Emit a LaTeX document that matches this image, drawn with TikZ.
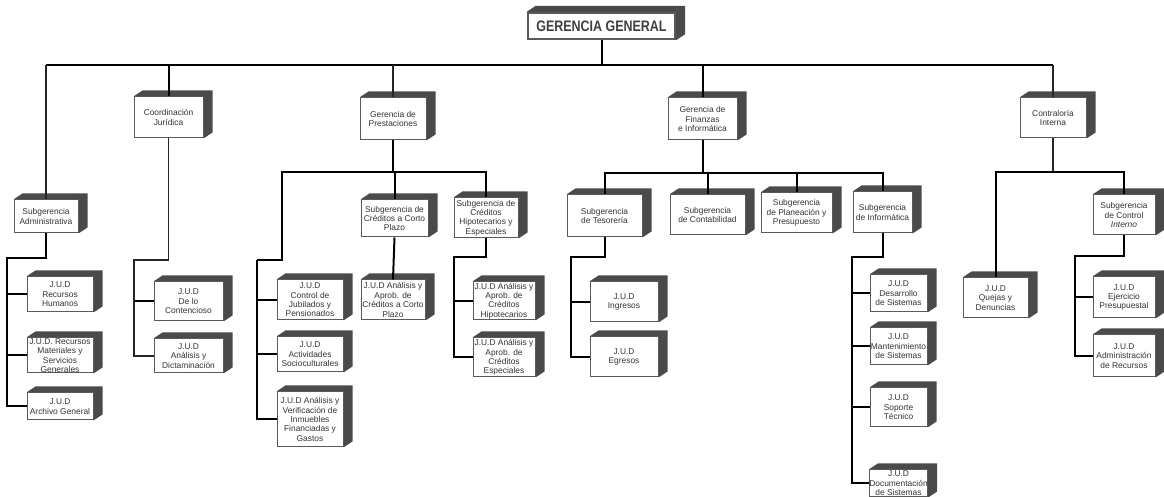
\documentclass[tikz,border=0pt]{standalone}
\usepackage{fontspec}
\setmainfont{Liberation Sans}
\usetikzlibrary{backgrounds}
\definecolor{boxline}{HTML}{5A5A5A}
\definecolor{sidefill}{HTML}{4A4A4A}
\definecolor{textc}{HTML}{333333}
\newcommand\boxfont{\fontsize{4.2}{4.7}\selectfont}

\begin{document}
\begin{tikzpicture}[x=0.5pt,y=-0.5pt,
  box/.style={draw=boxline, line width=0.5pt, fill=white, align=center,
    inner sep=0pt, font=\boxfont, text=textc},
  sz/.style 2 args={minimum width=#1*0.5pt, minimum height=#2*0.5pt},
  link/.style={line width=1pt, black},
  thinlink/.style={line width=0.6pt, black!85},
  bus/.style={line width=1.4pt, black}]
\useasboundingbox (0,0) rectangle (1164,497);

% ---------- top level ----------
\node[box, line width=1.2pt, sz={147}{26}, text=black!75,
      font=\bfseries\fontsize{7.6}{8}\selectfont] (gg) at (601.5,26)
      {\scalebox{0.82}[1]{GERENCIA GENERAL}};

% ---------- Subgerencia Administrativa ----------
\node[box, sz={64}{33}] (sa) at (46,216.5) {Subgerencia\\Administrativa};
\node[box, sz={66}{35}] (rh) at (60,294.5) {J.U.D\\Recursos\\Humanos};
\node[box, sz={66}{35}] (rm) at (60,355.5) {J.U.D. Recursos\\Materiales y\\Servicios\\Generales};
\node[box, sz={66}{27}] (ag) at (60,406.5) {J.U.D\\Archivo General};

% ---------- Coordinacion Juridica ----------
\node[box, sz={69}{41}] (cj) at (168.5,117.5) {Coordinación\\Jurídica};
\node[box, sz={69}{39}] (dc) at (188.5,301.5) {J.U.D\\De lo\\Contencioso};
\node[box, sz={69}{34}] (ad) at (188.5,356) {J.U.D\\Análisis y\\Dictaminación};

% ---------- Gerencia de Prestaciones ----------
\node[box, sz={66}{42}] (gp) at (393,119) {Gerencia de\\Prestaciones};
\node[box, sz={67}{37}] (sc) at (394.5,218.5) {Subgerencia de\\Créditos a Corto\\Plazo};
\node[box, sz={64}{40}] (jc) at (393,300) {J.U.D Análisis y\\Aprob. de\\Créditos a Corto\\Plazo};
\node[box, sz={64}{40}] (sh) at (486,218) {Subgerencia de\\Créditos\\Hipotecarios y\\Especiales};
\node[box, sz={62}{38}] (jh) at (504,301) {J.U.D Análisis y\\Aprob. de\\Créditos\\Hipotecarios};
\node[box, sz={62}{39}] (je) at (504,357.5) {J.U.D Análisis y\\Aprob. de\\Créditos\\Especiales};
\node[box, sz={66}{40}] (jp) at (310,300) {J.U.D\\Control de\\Jubilados y\\Pensionados};
\node[box, sz={66}{35}] (as) at (310,354.5) {J.U.D\\Actividades\\Socioculturales};
\node[box, sz={66}{55}] (av) at (310,419.5) {J.U.D Análisis y\\Verificación de\\Inmuebles\\Financiadas y\\Gastos};

% ---------- Gerencia de Finanzas e Informatica ----------
\node[box, sz={69}{42}] (gf) at (702.5,119) {Gerencia de\\Finanzas\\e Informática};
\node[box, sz={75}{42}] (st) at (604.5,216) {Subgerencia\\de Tesorería};
\node[box, sz={75}{40}] (scb) at (707.5,215) {Subgerencia\\de Contabilidad};
\node[box, sz={71}{40}] (spp) at (796.5,213) {Subgerencia\\de Planeación y\\Presupuesto};
\node[box, sz={59}{41}] (si) at (882.5,212.5) {Subgerencia\\de Informática};
\node[box, sz={68}{40}] (ji) at (624,302) {J.U.D\\Ingresos};
\node[box, sz={68}{40}] (jeg) at (624,357) {J.U.D\\Egresos};
\node[box, sz={57}{37}] (jd) at (898.5,293.5) {J.U.D\\Desarrollo\\de Sistemas};
\node[box, sz={57}{37}] (jm) at (898.5,346.5) {J.U.D\\Mantenimiento\\de Sistemas};
\node[box, sz={57}{39}] (js) at (898.5,407.5) {J.U.D\\Soporte\\Técnico};
\node[box, sz={57}{27}] (jdo) at (898.5,483.5) {J.U.D\\Documentación\\de Sistemas};

% ---------- Contraloria Interna ----------
\node[box, sz={66}{40}] (ci) at (1053,118) {Contraloría\\Interna};
\node[box, sz={65}{40}] (jq) at (995.5,298) {J.U.D\\Quejas y\\Denuncias};
\node[box, sz={62}{40}] (sci) at (1124,215) {Subgerencia\\de Control\\\textit{Interno}};
\node[box, sz={62}{41}] (jej) at (1124,297.5) {J.U.D\\Ejercicio\\Presupuestal};
\node[box, sz={62}{42}] (jar) at (1124,356) {J.U.D\\Administración\\de Recursos};

% ---------- 3D sides of the boxes ----------
\begin{scope}[on background layer]
  \fill[white] (0,0) rectangle (1164,497);
  \foreach \n in {gg,sa,rh,rm,ag,cj,dc,ad,gp,sc,jc,sh,jh,je,jp,as,av,
                  gf,st,scb,spp,si,ji,jeg,jd,jm,js,jdo,ci,jq,sci,jej,jar}
    \fill[sidefill] (\n.north west) -- ++(9,-6)
      -- ([shift={(9,-6)}]\n.north east) -- ([shift={(9,-6)}]\n.south east)
      -- (\n.south east) -- (\n.north east) -- cycle;
\end{scope}

% ---------- main bus ----------
\coordinate (busY) at (0,65);
\draw[bus] (sa.north |- busY) -- (ci.north |- busY);
\draw[link] (gg.south) -- (gg.south |- busY);
\draw[thinlink] (sa.north) -- (sa.north |- busY);
\draw[link] (cj.north) -- (cj.north |- busY);
\draw[thinlink] (gp.north) -- (gp.north |- busY);
\draw[link] (gf.north) -- (gf.north |- busY);
\draw[thinlink] (ci.north) -- (ci.north |- busY);

% ---------- Administrativa ----------
\coordinate (saT) at (7,258);
\draw[link] (sa.south) |- (saT) |- (ag.west);
\draw[link] (saT |- rh.west) -- (rh.west);
\draw[link] (saT |- rm.west) -- (rm.west);

% ---------- Juridica ----------
\coordinate (cjT) at (134,260);
\draw[thinlink] (cj.south) |- (cjT) |- (ad.west);
\draw[link] (cjT |- dc.west) -- (dc.west);

% ---------- Prestaciones ----------
\coordinate (gpL) at (282,172);
\coordinate (gpT) at (257,260);
\draw[link] (gp.south) -- (gp.south |- gpL);
\draw[link] (gpT) -| (gpL) -| (sh.north);
\draw[link] (gpT) |- (av.west);
\draw[link] (gpT |- jp.west) -- (jp.west);
\draw[link] (gpT |- as.west) -- (as.west);
\draw[link] (sc.north) -- (sc.north |- gpL);
\draw[link] (sc.south) -- (jc.north);
\coordinate (shT) at (454,257);
\draw[link] (sh.south) |- (shT) |- (je.west);
\draw[link] (shT |- jh.west) -- (jh.west);

% ---------- Finanzas ----------
\coordinate (gfB) at (0,173);
\draw[link] (gf.south) -- (gf.south |- gfB);
\draw[link] (st.north) |- (si.north |- gfB) -- (si.north);
\draw[link] (scb.north) -- (scb.north |- gfB);
\draw[link] (spp.north) -- (spp.north |- gfB);
\coordinate (stT) at (571,257);
\draw[link] (st.south) |- (stT) |- (jeg.west);
\draw[link] (stT |- ji.west) -- (ji.west);
\coordinate (siT) at (852,257);
\draw[link] (si.south) |- (siT) |- (jdo.west);
\draw[link] (siT |- jd.west) -- (jd.west);
\draw[link] (siT |- jm.west) -- (jm.west);
\draw[link] (siT |- js.west) -- (js.west);

% ---------- Contraloria ----------
\coordinate (ciB) at (0,172);
\draw[thinlink] (ci.south) -- (ci.south |- ciB);
\draw[link] (jq.north) |- (sci.north |- ciB) -- (sci.north);
\coordinate (sciT) at (1075,256);
\draw[link] (sci.south) |- (sciT) |- (jar.west);
\draw[link] (sciT |- jej.west) -- (jej.west);
\end{tikzpicture}
\end{document}
